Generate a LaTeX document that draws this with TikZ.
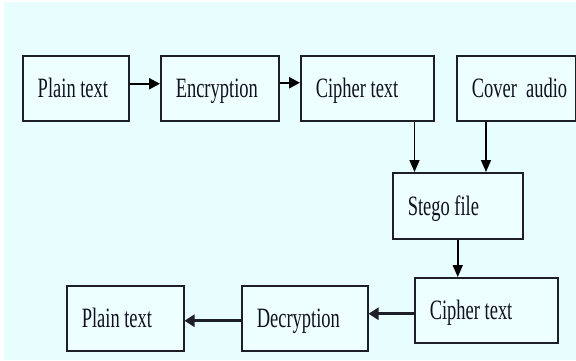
\documentclass[tikz,border=0pt]{standalone}
\usepackage{fontspec}
\setmainfont{Liberation Serif}[FakeStretch=0.66]
\usetikzlibrary{arrows.meta}
\definecolor{bgc}{HTML}{E8FEFE}
\definecolor{boxc}{HTML}{EEFFFF}
\definecolor{ink}{HTML}{101020}
\definecolor{linec}{HTML}{1E1E28}
\tikzset{
  box/.style={draw=linec, line width=1.5pt, fill=boxc, anchor=north west,
    inner xsep=15pt, inner ysep=0pt, text height=19pt, text depth=0pt,
    font=\fontsize{28}{30}\selectfont, text=ink},
  arr/.style={draw=black, line width=2.2pt, -{Triangle[length=11pt,width=11pt]}},
  varr/.style={draw=black, line width=1.6pt, -{Triangle[length=12pt,width=10pt]}},
  barr/.style={draw=linec, line width=2.8pt, -{Triangle[length=10pt,width=12pt]}},
}
\newcommand{\bx}[2]{\makebox[#1][l]{#2}}
\begin{document}
\begin{tikzpicture}[x=1pt,y=-1pt]
\useasboundingbox (0,0) rectangle (576,360);
\fill[white] (0,0) rectangle (576,360);
\fill[bgc] (4,2) rectangle (576,360);
% top row
\node[box, minimum width=106pt, minimum height=65pt] (pt1) at (22,55) {\bx{76pt}{Plain text}};
\node[box, minimum width=118pt, minimum height=65pt] (enc) at (160,55) {\bx{88pt}{Encryption}};
\node[box, minimum width=133pt, minimum height=65pt] (ct) at (300,55) {\bx{103pt}{Cipher text}};
\node[box, minimum width=119pt, minimum height=65pt] (ca) at (456,55) {\bx{89pt}{Cover\ \ audio}};
% middle
\node[box, minimum width=130pt, minimum height=66pt] (sf) at (392,172) {\bx{100pt}{Stego file}};
% bottom row
\node[box, minimum width=143pt, minimum height=65pt] (cb) at (414,277) {\bx{113pt}{Cipher text}};
\node[box, minimum width=126pt, minimum height=65pt] (dec) at (241,285) {\bx{96pt}{Decryption}};
\node[box, minimum width=117pt, minimum height=65pt] (pt2) at (66,285) {\bx{87pt}{Plain text}};
% connectors
\draw[arr] ([yshift=4.5pt]pt1.east) -- ([yshift=4.5pt]pt1.east -| enc.west);
\draw[arr] ([yshift=5.5pt]enc.east) -- ([yshift=5.5pt]enc.east -| ct.west);
\draw[varr] ([xshift=-20pt]ct.south east) -- ([xshift=-20pt]ct.south east |- sf.north);
\draw[varr] ([xshift=30pt]ca.south west) -- ([xshift=30pt]ca.south west |- sf.north);
\draw[varr] (sf.south) -- (sf.south |- cb.north);
\draw[barr] ([yshift=-3.5pt]cb.west) -- ([yshift=-3.5pt]cb.west -| dec.east);
\draw[barr] ([yshift=-2.5pt]dec.west) -- ([yshift=-2.5pt]dec.west -| pt2.east);
\end{tikzpicture}
\end{document}
